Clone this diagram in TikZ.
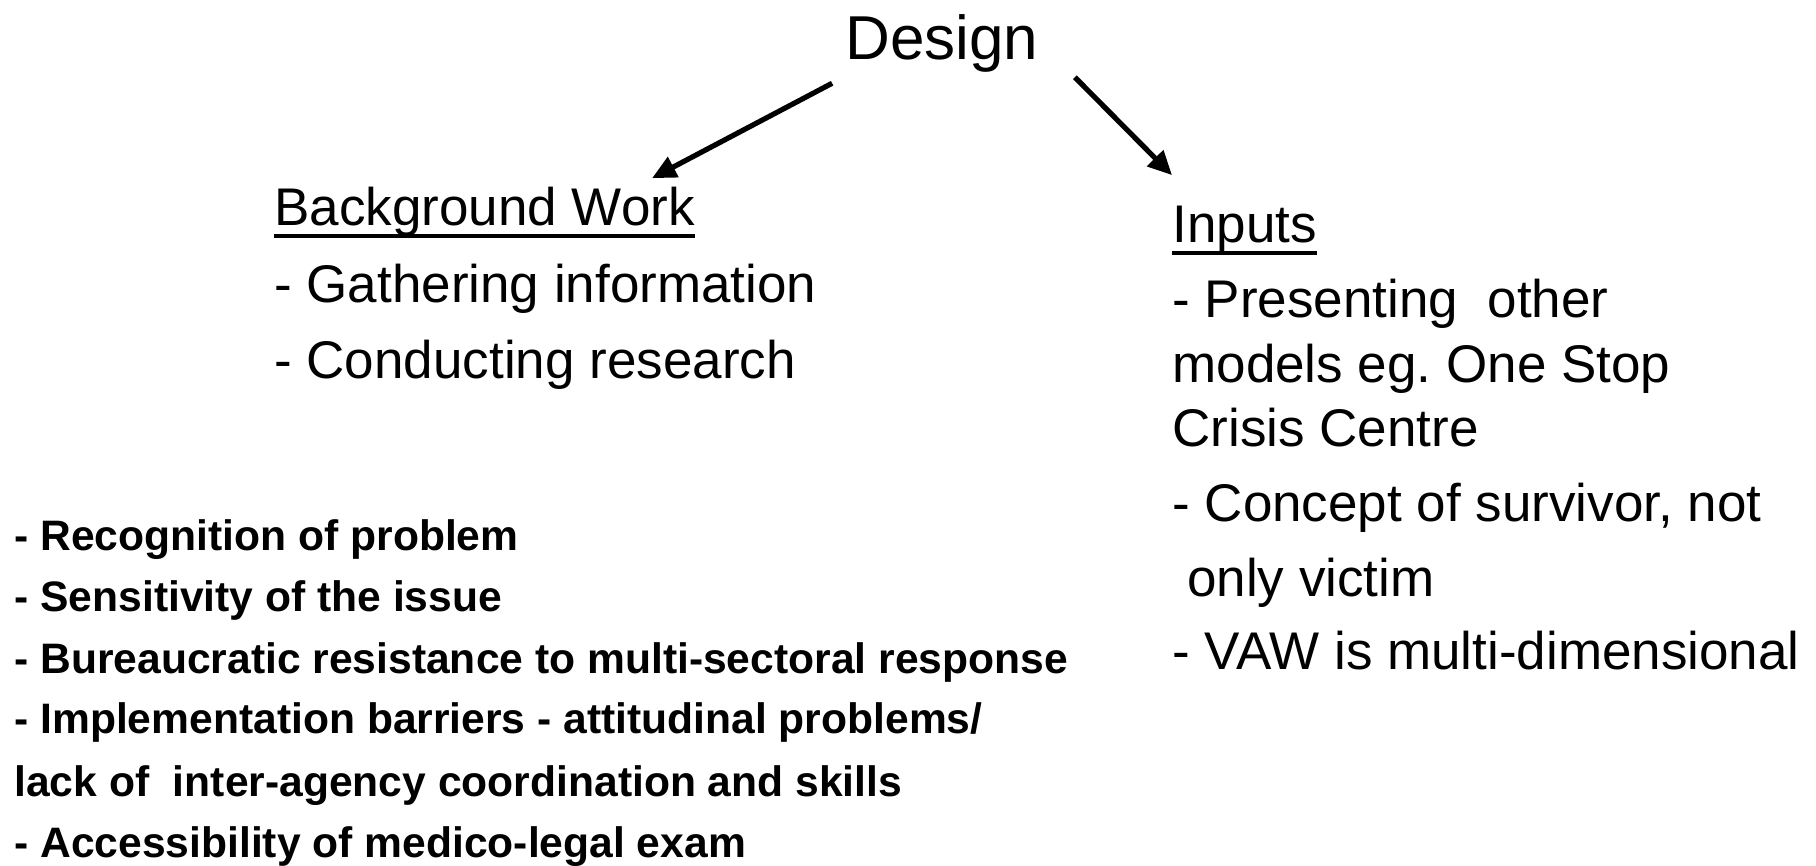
\documentclass[tikz,border=0pt]{standalone}
\usepackage{fontspec}
\setmainfont{Liberation Sans}
\frenchspacing
\usetikzlibrary{arrows.meta}
\tikzset{title/.style={inner sep=0pt, anchor=base, font=\fontsize{31}{37}\selectfont}}
\tikzset{item/.style={inner sep=0pt, anchor=base west, font=\fontsize{26.5}{32}\selectfont}}
\tikzset{issue/.style={inner sep=0pt, anchor=base west, font=\bfseries\fontsize{21.3}{26}\selectfont}}
\tikzset{connect/.style={draw, line width=2.6pt, -{Triangle[length=12pt,width=11pt]}}}
\tikzset{uline/.style={draw, line width=1.9pt}}

\begin{document}
\begin{tikzpicture}[x=0.5pt,y=-0.5pt]

\useasboundingbox (0,0) rectangle (1816,866);

\node[title] (design) at (942,60) {Design};

\node[item] (bg) at (274,226) {Background Work};
\node[item] (gather) at (274,303) {- Gathering information};
\node[item] (research) at (274,379) {- Conducting research};

\node[item] (inputs) at (1172,243) {Inputs};
\node[item] (models1) at (1172,318) {- Presenting~ other};
\node[item] (models2) at (1172,382) {models eg. One Stop};
\node[item] (models3) at (1172,446) {Crisis Centre};
\node[item] (survivor1) at (1172,521) {- Concept of survivor, not};
\node[item] (survivor2) at (1172,596) {\ only victim};
\node[item] (vaw) at (1172,669) {- VAW is multi-dimensional};

\node[issue] (recog) at (14,550) {- Recognition of problem};
\node[issue] (sens) at (14,611) {- Sensitivity of the issue};
\node[issue] (bureau) at (14,673) {- Bureaucratic resistance to multi-sectoral response};
\node[issue] (barrier1) at (14,733) {- Implementation barriers - attitudinal problems/};
\node[issue] (barrier2) at (14,796) {lack of~ inter-agency coordination and skills};
\node[issue] (access) at (14,857) {- Accessibility of medico-legal exam};

\path[uline] ([yshift=-5pt]bg.base west) -- ([yshift=-5pt]bg.base east);
\path[uline] ([yshift=-5pt]inputs.base west) -- ([yshift=-5pt]inputs.base east);

\path[connect] ([xshift=-6.5pt,yshift=-5pt]design.south west) -- ([xshift=-21.5pt,yshift=4.5pt]bg.north east);
\path[connect] ([xshift=18pt,yshift=-2pt]design.south east) -- ([yshift=15.5pt]inputs.north west);

\end{tikzpicture}
\end{document}
